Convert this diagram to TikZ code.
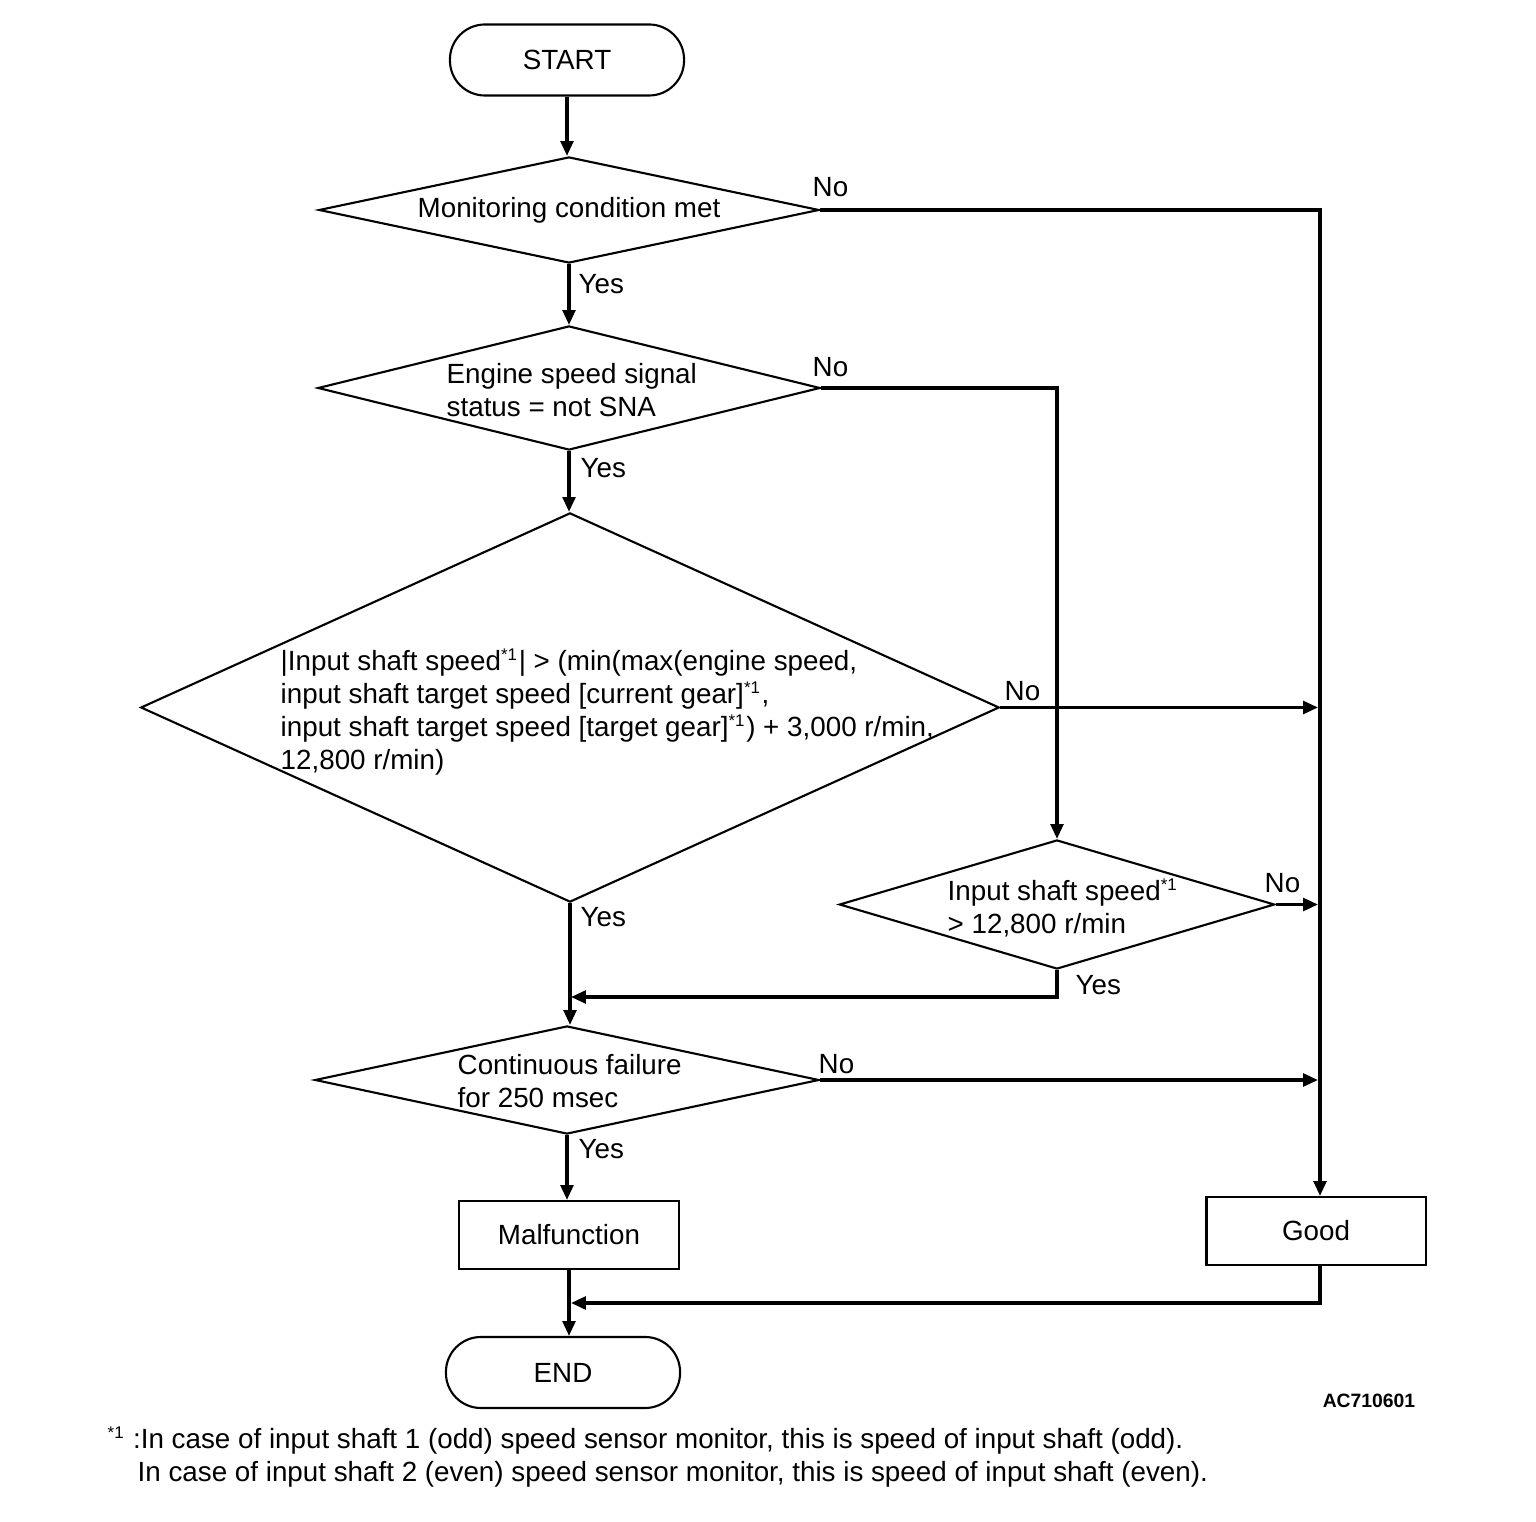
\documentclass[tikz,border=0pt]{standalone}
\usepackage{fontspec}
\setmainfont{Liberation Sans}
\usetikzlibrary{shapes.geometric,arrows.meta}
\newcommand\starone{\textsuperscript{\fontsize{4.8}{5}\selectfont *1}}
\begin{document}
\begin{tikzpicture}[x=0.01cm,y=-0.01cm,
  font=\fontsize{7.9}{9.45}\selectfont,
  box/.style={draw,line width=0.6pt,rectangle,minimum width=2.2cm,minimum height=0.68cm,inner sep=0},
  term/.style={draw,line width=0.6pt,rounded corners=0.35cm,minimum width=2.34cm,minimum height=0.71cm,inner sep=0},
  dec/.style={draw,line width=0.6pt,diamond,inner sep=0},
  txt/.style={inner sep=0,align=left},
  lbl/.style={inner sep=0,anchor=west},
  flow/.style={line width=0.9pt,-{Triangle[length=4.2pt,width=3.6pt]}},
  conn/.style={line width=0.9pt}]
\fill[white] (0,0) rectangle (1536,1522);
\useasboundingbox (0,0) rectangle (1536,1522);

% shapes
\node[term] (start) at (567,60) {START};
\node[dec,minimum width=5cm,minimum height=1.06cm] (d1) at (569,210) {};
\node[txt] (t1) at (569,210) {Monitoring condition met};
\node[dec,minimum width=5.02cm,minimum height=1.24cm] (d2) at (569,388) {};
\node[txt,anchor=west] (t2) at (446,390) {Engine speed signal\\status = not SNA};
\node[dec,minimum width=8.58cm,minimum height=3.89cm] (d3) at (570,707.5) {};
\node[txt,anchor=west] (t3) at (280,712) {|Input shaft speed\starone| > (min(max(engine speed,\\input shaft target speed [current gear]\starone,\\input shaft target speed [target gear]\starone) + 3,000 r/min,\\12,800 r/min)};
\node[dec,minimum width=4.35cm,minimum height=1.29cm] (d4) at (1057,904.5) {};
\node[txt,anchor=west] (t4) at (947,908) {Input shaft speed\starone\\> 12,800 r/min};
\node[dec,minimum width=5.04cm,minimum height=1.08cm] (d5) at (567,1080) {};
\node[txt,anchor=west] (t5) at (457,1081) {Continuous failure\\for 250 msec};
\node[box] (mal) at (569,1235) {Malfunction};
\node[box,minimum width=2.19cm] (good) at (1316,1231) {Good};
\node[term] (end) at (563,1372.5) {END};

\coordinate (j1) at (569,997);
\coordinate (j2) at (569,1303);
\coordinate (gn) at ([xshift=0.04cm]good.north);
\coordinate (gs) at ([xshift=0.04cm]good.south);

% connectors
\draw[flow] (start.south) -- (start.south |- d1.north);
\draw[flow] (d1.south) -- (d1.south |- d2.north);
\draw[flow] (d2.south) -- (d2.south |- d3.north);
\draw[flow] (d3.south) -- (d3.south |- d5.north);
\draw[flow] (d5.south) -- (d5.south |- mal.north);
\draw[flow] (mal.south) -- (mal.south |- end.north);

\draw[flow] (d1.east) -| (gn);
\draw[flow] (d2.east) -| (d4.north);
\draw[flow] (d3.east) -- ([xshift=-0.02cm]d3.east -| gn);
\draw[flow] (d4.east) -- ([xshift=-0.02cm]d4.east -| gn);
\draw[flow] (d5.east) -- ([xshift=-0.02cm]d5.east -| gn);
\draw[flow] (d4.south) |- ([xshift=0.02cm]j1);
\draw[flow] (gs) |- ([xshift=0.02cm]j2);

% labels
\node[lbl] (n1) at (812,187) {No};
\node[lbl] (y1) at (578,284) {Yes};
\node[lbl] (n2) at (812,367) {No};
\node[lbl] (y2) at (580,468) {Yes};
\node[lbl] (n3) at (1004,691) {No};
\node[lbl] (y3) at (580,917) {Yes};
\node[lbl] (n4) at (1264,883) {No};
\node[lbl] (y4) at (1075,985) {Yes};
\node[lbl] (n5) at (818,1064) {No};
\node[lbl] (y5) at (578,1149) {Yes};

\node[inner sep=0,font=\bfseries\fontsize{5.5}{6}\selectfont] (code) at (1369,1401) {AC710601};
\node[lbl] (fn1) at (107,1441) {\starone\ :In case of input shaft 1 (odd) speed sensor monitor, this is speed of input shaft (odd).};
\node[lbl] (fn2) at (137,1474) {In case of input shaft 2 (even) speed sensor monitor, this is speed of input shaft (even).};
\end{tikzpicture}
\end{document}
